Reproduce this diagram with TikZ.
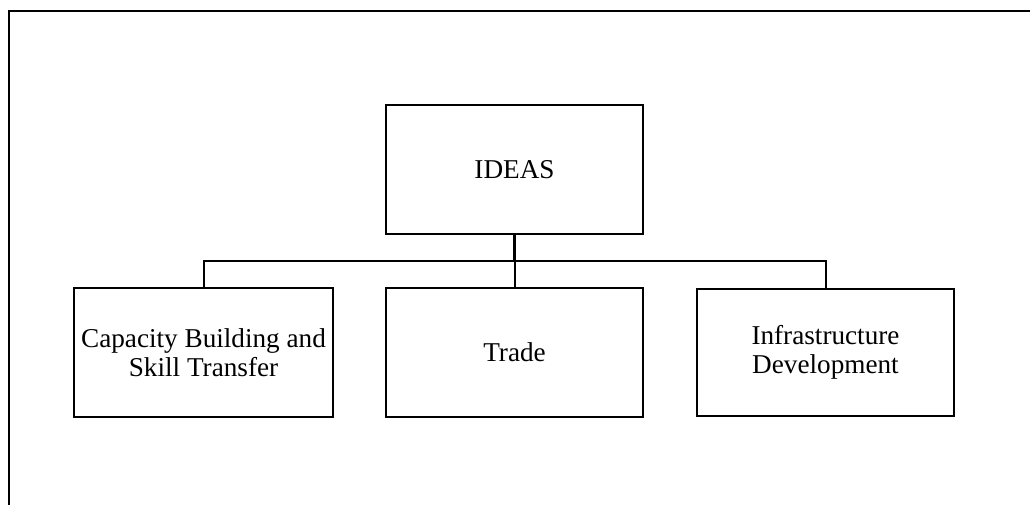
\documentclass[tikz,border=0pt]{standalone}
\usepackage{fontspec}
\setmainfont{Liberation Serif}
\begin{document}
\begin{tikzpicture}[x=0.75pt,y=-0.75pt,
  boxnode/.style={draw=black, line width=1.8pt, rectangle, inner sep=0pt,
    minimum width=192.75pt, minimum height=96.75pt, align=center,
    font=\fontsize{20.4pt}{21.8pt}\selectfont},
  conn/.style={draw=black, line width=1.5pt},
  frameline/.style={draw=black, line width=2.1pt}]
\useasboundingbox (0,0) rectangle (1030,505);
\coordinate (ftr) at (1030,11);
\coordinate (ftl) at (9,11);
\coordinate (fbl) at (9,505);
\draw[frameline] (ftr) -- (ftl) -- (fbl);
\node[boxnode] (ideas) at (514.5,169.5) {IDEAS};
\node[boxnode, minimum width=194.25pt] (cap) at (203.5,352.5) {Capacity Building and\\Skill Transfer};
\node[boxnode] (trade) at (514.5,352.5) {Trade};
\node[boxnode, minimum height=95.25pt] (infra) at (825.5,352.5) {Infrastructure\\Development};
\coordinate (j) at (514.5,261);
\draw[conn, line width=2pt] (ideas.south) -- (j);
\draw[conn] (j) -- (trade.north);
\draw[conn] (cap.north) |- (j) -| (infra.north);
\end{tikzpicture}
\end{document}
